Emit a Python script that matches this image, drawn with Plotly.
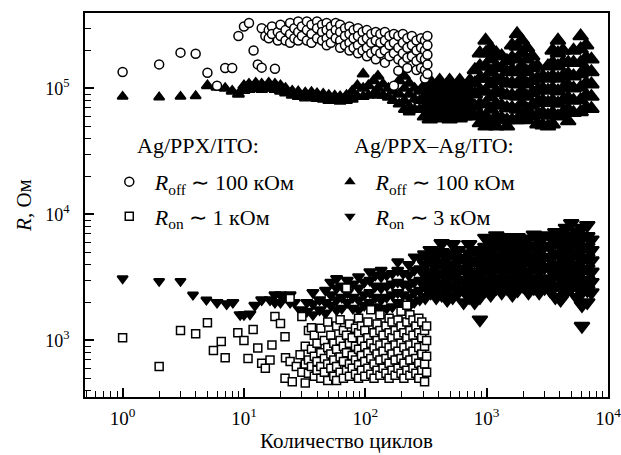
import plotly.graph_objects as go

# ---------------- data ----------------
# Ag/PPX/ITO, R_off (open circles): columns of (cycle, [R values])
roff1_cols_x = [1, 2, 3, 4, 5, 6, 7, 8, 9, 10, 11, 12, 13, 14, 15, 18,
                16, 17, 19, 20, 22, 24, 26, 28, 30, 33, 36, 40, 44, 48, 52, 57, 62, 68, 74,
                80, 87, 95, 103, 112, 122, 133, 145, 158, 172, 187, 204, 222, 242, 264,
                288, 310, 325]
roff1_cols_y = [[1.35e5], [1.55e5], [1.92e5], [1.88e5], [1.33e5], [1.05e5], [1.45e5], [1.45e5],
                [2.6e5], [3.1e5], [3.3e5], [2.0e5], [1.55e5], [3.0e5, 1.46e5], [2.6e5], [1.43e5],
                [2.9e5, 2.5e5], [3.1e5, 2.7e5], [2.8e5, 2.4e5], [3.2e5, 2.6e5], [2.9e5, 2.4e5],
                [3.3e5, 2.7e5, 2.3e5], [3.0e5, 2.5e5], [3.4e5, 2.8e5, 2.4e5], [3.1e5, 2.6e5],
                [3.4e5, 2.9e5, 2.4e5], [3.2e5, 2.7e5, 2.3e5], [3.4e5, 3.0e5, 2.5e5],
                [3.2e5, 2.8e5, 2.4e5], [3.3e5, 2.9e5, 2.5e5, 2.2e5], [3.1e5, 2.7e5, 2.3e5],
                [3.3e5, 2.9e5, 2.5e5], [3.2e5, 2.8e5, 2.4e5, 2.1e5], [3.0e5, 2.6e5, 2.2e5],
                [3.1e5, 2.7e5, 2.3e5, 2.0e5], [2.9e5, 2.5e5, 2.1e5], [3.0e5, 2.6e5, 2.2e5, 1.9e5],
                [2.8e5, 2.4e5, 2.0e5], [2.9e5, 2.5e5, 2.1e5, 1.8e5], [2.7e5, 2.3e5, 1.9e5],
                [2.8e5, 2.4e5, 2.0e5, 1.7e5], [2.7e5, 2.3e5, 1.9e5], [2.8e5, 2.4e5, 2.0e5, 1.6e5],
                [2.6e5, 2.2e5, 1.8e5], [2.7e5, 2.3e5, 1.9e5, 1.05e5], [2.6e5, 2.1e5, 1.7e5, 1.38e5],
                [2.7e5, 2.3e5, 1.9e5, 1.6e5], [2.5e5, 2.1e5, 1.75e5, 1.45e5], [2.6e5, 2.2e5, 1.8e5],
                [2.4e5, 2.0e5, 1.65e5, 1.4e5], [2.5e5, 2.1e5, 1.75e5, 1.45e5],
                [2.4e5, 2.0e5, 1.7e5, 1.4e5, 1.2e5], [2.6e5, 2.2e5, 1.85e5, 1.55e5, 1.3e5]]

# Ag/PPX/ITO, R_on (open squares)
ron1_cols_x = [1, 2, 3, 4, 5, 5.6, 6.5, 7, 8.9, 10, 10.8, 11.9, 13, 14, 15, 16.4, 17, 18, 20,
               21.8, 22, 24, 25, 27, 29, 30, 32, 34, 36, 38, 40, 43, 46, 49, 52, 55, 58, 62,
               66, 70, 74, 78, 83, 88, 93, 99, 105, 111, 118, 125, 132, 140, 148, 157, 166,
               176, 186, 197, 208, 220, 233, 247, 261, 276, 292, 308, 320]
ron1_cols_y = [[1.05e3], [620], [1.2e3], [1.13e3], [1.38e3], [830], [980], [730], [1.15e3],
               [1.0e3], [720], [1.22e3], [870], [660], [600], [700], [920], [1.55e3], [1.36e3],
               [1.07e3, 500], [730], [2.15e3, 680], [470], [620], [770], [1.55e3, 560],
               [460, 900, 650], [700, 1.2e3, 550], [620, 850, 1.26e3], [520, 750, 1.1e3],
               [580, 950, 680], [500, 800, 1.25e3, 620], [560, 720, 1.0e3],
               [480, 880, 650, 1.4e3], [600, 780, 1.1e3], [520, 700, 950],
               [480, 620, 850, 1.3e3], [560, 740, 1.0e3, 1.46e3], [500, 680, 900, 1.2e3],
               [580, 800, 1.1e3, 2.6e3], [520, 650, 950, 1.35e3], [600, 760, 1.05e3],
               [540, 700, 900, 1.25e3], [500, 640, 850, 1.15e3, 1.5e3], [580, 760, 1.0e3, 1.3e3],
               [520, 680, 900, 1.2e3], [600, 800, 1.05e3, 1.4e3], [540, 720, 950, 1.75e3],
               [500, 650, 870, 1.15e3], [580, 780, 1.0e3, 1.35e3], [530, 700, 920, 1.2e3, 1.6e3],
               [600, 820, 1.1e3], [550, 720, 950, 1.3e3], [500, 660, 880, 1.15e3, 1.5e3],
               [580, 780, 1.05e3, 1.4e3], [530, 700, 920, 1.2e3], [600, 820, 1.1e3, 1.45e3],
               [550, 720, 950, 1.3e3, 1.7e3], [500, 660, 880, 1.15e3],
               [580, 780, 1.05e3, 1.4e3, 1.9e3], [530, 700, 920, 1.2e3, 1.6e3],
               [600, 820, 1.1e3, 1.45e3], [550, 720, 950, 1.3e3],
               [500, 660, 880, 1.15e3, 1.5e3], [580, 780, 1.05e3, 1.4e3],
               [470, 650, 900, 1.2e3], [560, 750, 1.0e3, 1.3e3]]

# Ag/PPX-Ag/ITO, R_off (filled up-triangles)
roff2_cols_x = [1, 2, 3, 4, 5, 6, 7, 8, 9, 10, 11, 12.5, 14, 16, 18, 20, 22, 25, 28, 32, 36,
                40, 45, 50, 56, 62, 70, 78, 86, 96, 106, 117, 127, 140, 155, 170, 190, 210,
                230, 255, 280, 310, 340, 375, 410, 450, 495, 545, 600, 660, 730, 800, 880,
                980, 1080, 1200, 1330, 1470, 1620, 1780, 1950, 2150, 2370, 2620, 2900, 3200,
                3500, 3870, 4250, 4700, 5200, 5950, 6600, 7300]
roff2_cols_y = [[8.6e4], [8.5e4], [8.6e4], [8.7e4], [1.05e5], [1.02e5], [1.0e5], [9.5e4],
                [9.0e4], [1.05e5, 9.6e4], [1.08e5, 9.8e4], [1.1e5, 1.0e5], [1.08e5, 9.8e4],
                [1.1e5, 1.0e5], [1.08e5, 9.8e4], [1.05e5, 9.5e4], [1.0e5, 9.2e4],
                [9.5e4, 8.8e4], [9.4e4, 8.6e4], [9.2e4, 8.4e4], [9.3e4, 8.5e4], [9.1e4, 8.3e4],
                [9.0e4, 8.2e4], [8.8e4, 8.0e4], [8.7e4, 8.0e4], [8.6e4, 7.9e4], [8.8e4, 8.0e4],
                [9.5e4, 8.2e4], [1.05e5, 8.6e4], [1.3e5, 1.0e5, 8.6e4], [1.05e5, 8.8e4],
                [1.15e5, 9.0e4], [1.25e5, 1.0e5, 8.8e4], [1.08e5, 8.8e4], [1.0e5, 8.5e4],
                [9.5e4, 8.0e4], [1.15e5, 9.0e4, 7.5e4], [1.25e5, 1.0e5, 8.0e4, 6.8e4],
                [1.1e5, 9.0e4, 7.2e4, 6.5e4], [1.0e5, 8.2e4, 6.8e4], [9.5e4, 8.0e4, 6.8e4],
                [1.05e5, 8.5e4, 7.0e4, 6.0e4], [1.15e5, 9.5e4, 7.8e4, 6.3e4, 5.7e4],
                [1.0e5, 8.5e4, 7.0e4, 6.0e4], [1.15e5, 9.5e4, 7.8e4, 6.5e4, 5.8e4],
                [1.0e5, 8.5e4, 7.0e4, 6.0e4], [1.15e5, 9.5e4, 7.8e4, 6.5e4, 5.7e4],
                [1.0e5, 8.5e4, 7.0e4, 6.0e4], [1.15e5, 9.5e4, 7.8e4, 6.5e4, 5.8e4],
                [1.0e5, 8.5e4, 7.0e4, 6.0e4], [1.15e5, 9.5e4, 7.8e4, 6.3e4],
                [1.4e5, 1.1e5, 9.0e4, 7.2e4, 6.0e4],
                [1.9e5, 1.5e5, 1.2e5, 9.5e4, 7.5e4, 6.2e4, 5.3e4],
                [2.4e5, 1.9e5, 1.5e5, 1.2e5, 9.5e4, 7.5e4, 6.0e4, 5.0e4],
                [2.1e5, 1.7e5, 1.35e5, 1.08e5, 8.5e4, 6.8e4, 5.4e4],
                [1.9e5, 1.5e5, 1.2e5, 9.5e4, 7.5e4, 6.0e4, 5.0e4],
                [1.8e5, 1.45e5, 1.15e5, 9.2e4, 7.3e4, 5.8e4],
                [1.65e5, 1.35e5, 1.1e5, 8.8e4, 7.0e4, 5.6e4, 5.0e4],
                [2.2e5, 1.75e5, 1.4e5, 1.1e5, 8.8e4, 7.0e4, 5.6e4],
                [2.7e5, 2.15e5, 1.7e5, 1.35e5, 1.08e5, 8.6e4, 6.8e4, 5.6e4],
                [2.4e5, 1.9e5, 1.5e5, 1.2e5, 9.5e4, 7.6e4, 6.0e4],
                [2.1e5, 1.7e5, 1.35e5, 1.08e5, 8.6e4, 6.8e4, 5.6e4],
                [1.8e5, 1.45e5, 1.15e5, 9.2e4, 7.3e4, 6.0e4],
                [1.5e5, 1.2e5, 9.6e4, 7.7e4, 6.2e4, 5.2e4],
                [1.25e5, 1.0e5, 8.0e4, 6.4e4, 5.1e4],
                [1.5e5, 1.2e5, 9.6e4, 7.7e4, 6.1e4, 5.0e4],
                [2.0e5, 1.6e5, 1.25e5, 1.0e5, 8.0e4, 6.4e4, 5.2e4],
                [2.4e5, 1.9e5, 1.5e5, 1.2e5, 9.5e4, 7.6e4, 6.0e4],
                [2.0e5, 1.6e5, 1.25e5, 1.0e5, 8.0e4, 6.4e4],
                [1.6e5, 1.3e5, 1.05e5, 8.4e4, 6.8e4, 5.5e4],
                [2.0e5, 1.6e5, 1.25e5, 1.0e5, 8.0e4, 6.4e4],
                [2.6e5, 2.05e5, 1.6e5, 1.3e5, 1.02e5, 8.1e4, 6.5e4],
                [2.2e5, 1.75e5, 1.4e5, 1.1e5, 8.8e4, 7.0e4],
                [1.7e5, 1.35e5, 1.08e5, 8.6e4, 6.9e4]]

# Ag/PPX-Ag/ITO, R_on (filled down-triangles)
ron2_cols_x = [1, 2, 3, 3.8, 4.9, 6, 7.2, 8.1, 9.3, 10, 11.2, 12.3, 14, 16.4, 18, 20, 22, 24,
               26, 29, 33, 37, 42, 47, 52, 58, 64, 71, 79, 88, 98, 109, 121, 135, 150, 167,
               185, 205, 228, 253, 281, 312, 346, 384, 426, 473, 525, 582, 646, 717, 796,
               880, 975, 1080, 1200, 1330, 1470, 1630, 1800, 2000, 2210, 2450, 2710, 3000,
               3320, 3680, 4070, 4500, 4980, 5510, 6100, 6750, 7300]
ron2_cols_y = [[3.1e3], [2.95e3], [2.95e3], [2.3e3], [2.1e3], [2.0e3], [1.95e3], [2.0e3],
               [1.6e3], [1.6e3], [1.62e3], [1.9e3], [2.1e3], [2.1e3], [2.3e3, 2.0e3],
               [2.3e3, 2.0e3], [2.25e3], [2.3e3, 2.0e3], [2.0e3], [1.75e3], [1.7e3, 2.0e3],
               [1.6e3, 1.95e3, 2.4e3], [1.75e3, 2.1e3], [1.65e3, 2.0e3, 2.5e3],
               [1.9e3, 2.3e3, 2.9e3], [1.75e3, 2.1e3, 2.6e3, 3.1e3], [1.8e3, 2.2e3, 2.7e3],
               [2.0e3, 2.4e3, 3.0e3], [1.8e3, 2.2e3, 2.8e3], [1.75e3, 2.1e3, 2.6e3, 3.2e3],
               [1.9e3, 2.3e3, 2.9e3], [2.0e3, 2.4e3, 3.0e3, 3.5e3],
               [1.85e3, 2.2e3, 2.7e3, 3.3e3], [1.75e3, 2.1e3, 2.6e3, 3.2e3, 3.6e3],
               [1.8e3, 2.2e3, 2.7e3, 3.3e3], [1.85e3, 2.3e3, 2.8e3, 3.4e3],
               [2.0e3, 2.4e3, 2.9e3, 3.6e3, 4.2e3], [1.9e3, 2.3e3, 2.8e3, 3.4e3],
               [1.85e3, 2.2e3, 2.7e3, 3.3e3, 4.0e3], [2.0e3, 2.4e3, 2.9e3, 3.6e3, 4.6e3],
               [2.1e3, 2.5e3, 3.0e3, 3.7e3, 4.5e3], [2.2e3, 2.7e3, 3.3e3, 4.0e3, 4.8e3],
               [2.4e3, 2.9e3, 3.5e3, 4.3e3, 5.2e3], [2.2e3, 2.6e3, 3.2e3, 3.9e3, 4.7e3],
               [2.3e3, 2.8e3, 3.4e3, 4.1e3, 5.0e3, 5.9e3], [2.1e3, 2.5e3, 3.1e3, 3.8e3, 4.6e3],
               [2.2e3, 2.7e3, 3.3e3, 4.0e3, 4.9e3, 5.8e3], [2.4e3, 2.9e3, 3.5e3, 4.3e3, 5.2e3],
               [2.0e3, 2.5e3, 3.0e3, 3.7e3, 4.5e3], [2.2e3, 2.7e3, 3.3e3, 4.0e3, 4.9e3, 5.8e3],
               [2.0e3, 2.4e3, 2.9e3, 3.5e3, 4.3e3, 5.2e3],
               [1.46e3, 2.2e3, 2.7e3, 3.3e3, 4.0e3, 4.9e3],
               [2.5e3, 3.0e3, 3.7e3, 4.5e3, 5.5e3, 6.5e3],
               [2.3e3, 2.8e3, 3.4e3, 4.1e3, 5.0e3, 6.2e3],
               [2.6e3, 3.1e3, 3.8e3, 4.6e3, 5.6e3, 6.8e3],
               [2.4e3, 2.9e3, 3.5e3, 4.3e3, 5.2e3, 6.3e3],
               [2.6e3, 3.1e3, 3.8e3, 4.6e3, 5.6e3, 6.6e3],
               [2.3e3, 2.8e3, 3.4e3, 4.1e3, 5.0e3, 6.1e3],
               [2.5e3, 3.0e3, 3.7e3, 4.5e3, 5.5e3, 6.6e3],
               [2.7e3, 3.3e3, 4.0e3, 4.9e3, 5.9e3],
               [2.4e3, 2.9e3, 3.5e3, 4.3e3, 5.2e3, 6.4e3],
               [2.6e3, 3.1e3, 3.8e3, 4.6e3, 5.6e3, 6.9e3],
               [2.4e3, 2.9e3, 3.5e3, 4.3e3, 5.2e3, 6.3e3],
               [2.6e3, 3.1e3, 3.8e3, 4.6e3, 5.6e3, 6.8e3],
               [2.5e3, 3.0e3, 3.7e3, 4.5e3, 5.5e3, 6.7e3],
               [2.2e3, 2.7e3, 3.3e3, 4.0e3, 4.9e3, 6.0e3, 7.2e3],
               [2.1e3, 2.6e3, 3.1e3, 3.8e3, 4.6e3, 5.6e3, 6.9e3],
               [2.4e3, 2.9e3, 3.5e3, 4.3e3, 5.2e3, 6.4e3, 7.8e3],
               [2.6e3, 3.1e3, 3.8e3, 4.6e3, 5.6e3, 6.8e3, 8.5e3],
               [2.2e3, 2.7e3, 3.3e3, 4.0e3, 4.9e3, 6.0e3, 7.3e3],
               [1.3e3, 1.9e3, 2.4e3, 2.9e3, 3.5e3, 4.3e3, 5.2e3, 6.4e3, 7.8e3],
               [2.0e3, 2.5e3, 3.0e3, 3.7e3, 4.5e3, 5.5e3, 6.7e3, 8.2e3],
               [2.4e3, 2.9e3, 3.5e3, 4.3e3, 5.2e3, 6.3e3]]

x_tick_vals = [1, 10, 100, 1000, 10000]
x_tick_text = ["10<sup>0</sup>", "10<sup>1</sup>", "10<sup>2</sup>", "10<sup>3</sup>", "10<sup>4</sup>"]
y_tick_vals = [1000, 10000, 100000]
y_tick_text = ["10<sup>3</sup>", "10<sup>4</sup>", "10<sup>5</sup>"]

group1_title = "Ag/PPX/ITO:"
group2_title = "Ag/PPX–Ag/ITO:"
name_roff1 = " <i>R</i><sub>off</sub> ∼ 100 кОм"
name_ron1 = " <i>R</i><sub>on</sub> ∼ 1 кОм"
name_roff2 = " <i>R</i><sub>off</sub> ∼ 100 кОм"
name_ron2 = " <i>R</i><sub>on</sub> ∼ 3 кОм"


def expand(cols_x, cols_y):
    xs, ys = [], []
    for cx, cy in zip(cols_x, cols_y):
        for v in cy:
            xs.append(cx)
            ys.append(v)
    return xs, ys


def tri_sizes(xs):
    # dense clouds of overlapping points drawn with larger markers
    return [9 if v < 5 else (10 if v < 300 else 13) for v in xs]


FONT = "Liberation Serif, Times New Roman, serif"
fig = go.Figure()

tri_up = dict(symbol="triangle-up", color="black", opacity=1)
tri_dn = dict(symbol="triangle-down", color="black", opacity=1)
circ = dict(symbol="circle", size=9, color="white", opacity=1, line=dict(width=1.5, color="black"))
sq = dict(symbol="square", size=8, color="white", opacity=1, line=dict(width=1.5, color="black"))

x, y = expand(roff2_cols_x, roff2_cols_y)
fig.add_trace(go.Scatter(x=x, y=y, mode="markers", showlegend=False,
                         marker=dict(**tri_up, size=tri_sizes(x), line=dict(width=2, color="black"))))
x, y = expand(ron2_cols_x, ron2_cols_y)
fig.add_trace(go.Scatter(x=x, y=y, mode="markers", showlegend=False,
                         marker=dict(**tri_dn, size=tri_sizes(x), line=dict(width=2, color="black"))))
x, y = expand(roff1_cols_x, roff1_cols_y)
fig.add_trace(go.Scatter(x=x, y=y, mode="markers", showlegend=False, marker=circ))
x, y = expand(ron1_cols_x, ron1_cols_y)
fig.add_trace(go.Scatter(x=x, y=y, mode="markers", showlegend=False, marker=sq))

# legend entries (no data points of their own)
fig.add_trace(go.Scatter(x=[None], y=[None], mode="markers", legend="legend", legendgroup="c",
                         name=name_roff1, marker=circ))
fig.add_trace(go.Scatter(x=[None], y=[None], mode="markers", legend="legend", legendgroup="d",
                         name=name_ron1, marker=sq))
fig.add_trace(go.Scatter(x=[None], y=[None], mode="markers", legend="legend2", legendgroup="a",
                         name=name_roff2, marker=dict(**tri_up, size=10, line=dict(width=0))))
fig.add_trace(go.Scatter(x=[None], y=[None], mode="markers", legend="legend2", legendgroup="b",
                         name=name_ron2, marker=dict(**tri_dn, size=10, line=dict(width=0))))

axis_common = dict(type="log", showgrid=False, zeroline=False, showline=True, mirror=True,
                   linecolor="black", linewidth=1.5, ticks="inside", ticklen=9, tickwidth=1.5,
                   tickcolor="black", tickmode="array", automargin=False,
                   ticklabeloverflow="allow",
                   minor=dict(ticks="inside", ticklen=6, tickwidth=1.2, tickcolor="black",
                              dtick="D1", showgrid=False))

fig.update_xaxes(**axis_common, range=[-0.31, 4.0], tickvals=x_tick_vals, ticktext=x_tick_text,
                 tickfont=dict(family=FONT, size=19, color="black"), ticklabelstandoff=3,
                 title=dict(text="Количество циклов", font=dict(family=FONT, size=21, color="black"),
                            standoff=6))
fig.update_yaxes(**axis_common, range=[2.551, 5.598], tickvals=y_tick_vals, ticktext=y_tick_text,
                 tickfont=dict(family=FONT, size=18, color="black"), ticklabelstandoff=10,
                 title=dict(text="<i>R</i>, Ом", font=dict(family=FONT, size=21, color="black"),
                            standoff=8))

legend_common = dict(xanchor="left", yanchor="top", bgcolor="rgba(0,0,0,0)",
                     font=dict(family=FONT, size=22, color="black"), tracegroupgap=3,
                     traceorder="grouped", itemwidth=30)
title_font = dict(family=FONT, size=22, color="black")
fig.update_layout(
    width=621, height=455,
    margin=dict(l=85, r=13, t=13, b=58),
    paper_bgcolor="white", plot_bgcolor="white",
    showlegend=True,
    legend=dict(**legend_common, x=0.0464, y=0.615),
    legend2=dict(**legend_common, x=0.4684, y=0.615),
    annotations=[
        dict(text=group1_title, xref="paper", yref="paper", x=0.095, y=0.656,
             xanchor="left", yanchor="middle", showarrow=False, font=title_font),
        dict(text=group2_title, xref="paper", yref="paper", x=0.51, y=0.656,
             xanchor="left", yanchor="middle", showarrow=False, font=title_font),
    ],
)

# remove the browser's default page margin so the figure fills the window exactly,
# and let the last tick label draw past the svg edge instead of being clipped
page_css = ("document.body.style.margin='0';document.body.style.overflow='hidden';"
            "document.querySelectorAll('svg.main-svg').forEach(function(s){s.style.overflow='visible';});")
fig.write_html("out.html", post_script=page_css, config={"displayModeBar": False})
